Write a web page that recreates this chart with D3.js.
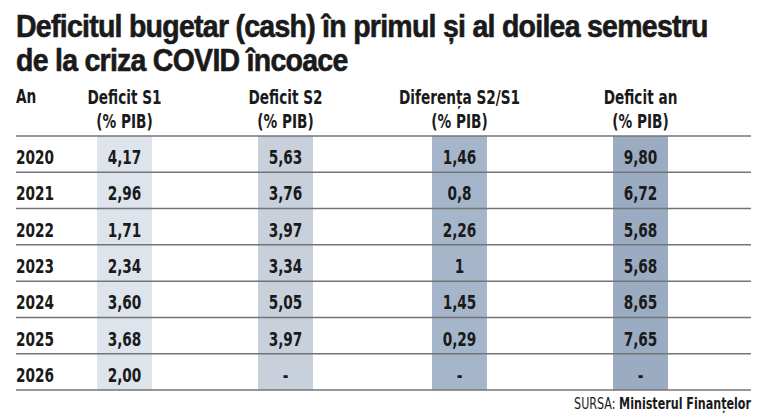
<!DOCTYPE html>
<html>
<head>
<meta charset="utf-8">
<script src="https://cdn.jsdelivr.net/npm/d3@7"></script>
<style>
  html, body { margin: 0; padding: 0; background: #fff; }
  svg { display: block; }
  .cond { font-family: "DejaVu Sans Condensed", "DejaVu Sans", sans-serif; font-stretch: condensed; }
</style>
</head>
<body>
<div id="chart"></div>
<script>
// table data
const titleLines = ['Deficitul bugetar (cash) în primul și al doilea semestru', 'de la criza COVID încoace'];
const years = ['2020', '2021', '2022', '2023', '2024', '2025', '2026'];
const columnHeaders = [['Deficit S1', '(% PIB)'], ['Deficit S2', '(% PIB)'], ['Diferența S2/S1', '(% PIB)'], ['Deficit an', '(% PIB)']];
const deficitS1 = ['4,17', '2,96', '1,71', '2,34', '3,60', '3,68', '2,00'];
const deficitS2 = ['5,63', '3,76', '3,97', '3,34', '5,05', '3,97', '-'];
const diferenta = ['1,46', '0,8', '2,26', '1', '1,45', '0,29', '-'];
const deficitAn = ['9,80', '6,72', '5,68', '5,68', '8,65', '7,65', '-'];
const sourceLabel = 'SURSA:';
const sourceName = 'Ministerul Finanțelor';

const width = 768, height = 417;
const columns = [deficitS1, deficitS2, diferenta, deficitAn];
const colKeys = d3.range(columns.length);
const colCenter = d3.scaleOrdinal().domain(colKeys).range([124.5, 285.5, 459.5, 640.5]);
const bandColor = d3.scaleOrdinal().domain(colKeys).range(['#dee4ec', '#c8d0dc', '#a6b6ca', '#9aabc2']);
const bandW = 55;
const left = 16, right = 751;
const sx = 0.8; // horizontal squeeze for the condensed look

const y = d3.scaleBand().domain(years).range([136, 390]);

const svg = d3.select('#chart').append('svg')
    .attr('width', width)
    .attr('height', height);

// place a squeezed text at x,y
function cond(sel, x, yy) {
    sel.attr('x', 0).attr('y', 0)
        .attr('transform', (d, i) => `translate(${x(d, i)},${yy(d, i)}) scale(${sx},1)`);
}

// title, squeezed horizontally to fit the line width
const title = svg.append('g').attr('class', 'title');
title.selectAll('text')
    .data(titleLines)
    .join('text')
    .attr('x', 0)
    .attr('y', (d, i) => 37 + i * 34)
    .attr('font-family', 'Liberation Sans, Arial, sans-serif')
    .attr('font-weight', 'bold')
    .attr('font-size', 31)
    .attr('letter-spacing', -0.8)
    .attr('fill', '#1a1a1a')
    .attr('stroke', '#1a1a1a')
    .attr('stroke-width', 0.6)
    .text(d => d);
const w0 = title.select('text').node().getComputedTextLength();
title.attr('transform', `translate(${left},0) scale(${692 / w0},1)`);

// column bands
svg.append('g')
    .selectAll('rect')
    .data(colKeys)
    .join('rect')
    .attr('x', d => colCenter(d) - bandW / 2)
    .attr('y', y.range()[0])
    .attr('width', bandW)
    .attr('height', y.range()[1] - y.range()[0])
    .attr('fill', d => bandColor(d));

// row rules
svg.append('g')
    .selectAll('line')
    .data([y.range()[0]].concat(years.map(d => y(d) + y.bandwidth())))
    .join('line')
    .attr('x1', left)
    .attr('x2', right)
    .attr('y1', d => d)
    .attr('y2', d => d)
    .attr('stroke', '#747474')
    .attr('stroke-width', 1.5);

// header
const head = svg.append('g').attr('class', 'cond')
    .attr('font-weight', 'bold')
    .attr('font-size', 19)
    .attr('fill', '#1a1a1a');
head.append('text').text('An').call(cond, () => left, () => 103);
const hcol = head.selectAll('g.h')
    .data(columnHeaders)
    .join('g')
    .attr('class', 'h');
hcol.selectAll('text')
    .data((d, i) => d.map(t => ({ t, i })))
    .join('text')
    .attr('text-anchor', 'middle')
    .text(d => d.t)
    .call(cond, d => colCenter(d.i), (d, j) => 104 + j * 24);

// body
const body = svg.append('g').attr('class', 'cond')
    .attr('font-weight', 'bold')
    .attr('font-size', 19)
    .attr('fill', '#1a1a1a');
const baseY = d => y(d) + y.bandwidth() / 2 + 10;
body.selectAll('text.year')
    .data(years)
    .join('text')
    .attr('class', 'year')
    .text(d => d)
    .call(cond, () => left, d => baseY(d));
columns.forEach((vals, ci) => {
    body.selectAll('text.c' + ci)
        .data(vals)
        .join('text')
        .attr('class', 'c' + ci)
        .attr('text-anchor', 'middle')
        .text(d => d)
        .call(cond, () => colCenter(ci), (d, i) => baseY(years[i]));
});

// source
const src = svg.append('text').attr('class', 'cond')
    .attr('text-anchor', 'end')
    .attr('font-size', 15.5)
    .attr('fill', '#1a1a1a')
    .call(cond, () => right, () => 409);
src.append('tspan').text(sourceLabel + ' ');
src.append('tspan').attr('font-weight', 'bold').text(sourceName);
</script>
</body>
</html>
